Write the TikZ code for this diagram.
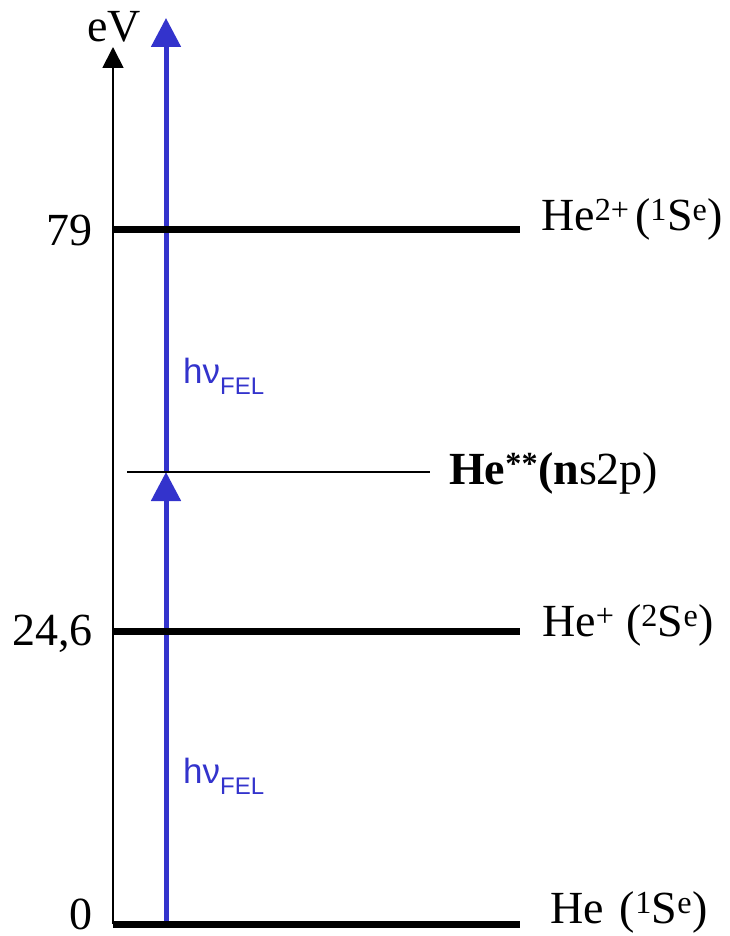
\documentclass[tikz,border=0pt]{standalone}
\usepackage{fontspec}
\setmainfont{Liberation Serif}
\newfontfamily\hvfont{Liberation Sans}
\usetikzlibrary{arrows.meta}
\definecolor{felblue}{RGB}{51,51,204}
\begin{document}
\begin{tikzpicture}[x=1pt,y=-1pt,
  level/.style={line width=7pt},
  thinlevel/.style={line width=1.5pt},
  axisline/.style={line width=1.8pt,-{Triangle[width=21pt,length=21pt]}},
  photon/.style={felblue,line width=5pt,-{Triangle[width=29pt,length=29pt]}},
  lbl/.style={inner sep=0pt,font=\fontsize{46}{55}\selectfont},
  hv/.style={inner sep=0pt,text=felblue,font=\hvfont\fontsize{35}{40}\selectfont}]
\useasboundingbox (0,0) rectangle (730,936);
% coordinates
\coordinate (axbot) at (113,924);
\coordinate (axtop) at (113,47);
\coordinate (pbot) at (166,924);
\coordinate (pmid) at (166,472);
\coordinate (ptop) at (166,18);
\coordinate (L0a) at (113,924);
\coordinate (L0b) at (520,924);
\coordinate (L1a) at (113,631);
\coordinate (L1b) at (520,631);
\coordinate (L2a) at (113,229);
\coordinate (L2b) at (520,229);
\coordinate (Lsa) at (127,472);
\coordinate (Lsb) at (430,472);
% axis
\draw[axisline] (axbot) -- (axtop);
\node[lbl,anchor=base] (ev) at (114,42) {eV};
% photons
\draw[photon] (pbot) -- (pmid);
\draw[photon] (pmid) -- (ptop);
% levels
\draw[level] (L0a) -- (L0b);
\draw[level] (L1a) -- (L1b);
\draw[level] (L2a) -- (L2b);
\draw[thinlevel] (Lsa) -- (Lsb);
% energy values
\node[lbl,anchor=base east] (e79) at (93,245) {79};
\node[lbl,anchor=base east] (e246) at (93,645) {24,6};
\node[lbl,anchor=base east] (e0) at (93,929) {0};
% level labels
\node[lbl,anchor=base west] (he2) at (541,230) {He\textsuperscript{2+}\hspace{0.12em}(\textsuperscript{1}S\textsuperscript{e})};
\node[lbl,anchor=base west] (hes) at (449,484) {\textbf{He\textsuperscript{**}(n}s2p)};
\node[lbl,anchor=base west] (he1) at (542,636) {He\textsuperscript{+} (\textsuperscript{2}S\textsuperscript{e})};
\node[lbl,anchor=base west] (he0) at (550,923) {He\hspace{0.35em}(\textsuperscript{1}S\textsuperscript{e})};
% photon labels
\node[hv,anchor=base west] (hv1) at (183,383) {hν\raisebox{-11pt}{\fontsize{24}{28}\selectfont FEL}};
\node[hv,anchor=base west] (hv2) at (183,783) {hν\raisebox{-11pt}{\fontsize{24}{28}\selectfont FEL}};
\end{tikzpicture}
\end{document}
